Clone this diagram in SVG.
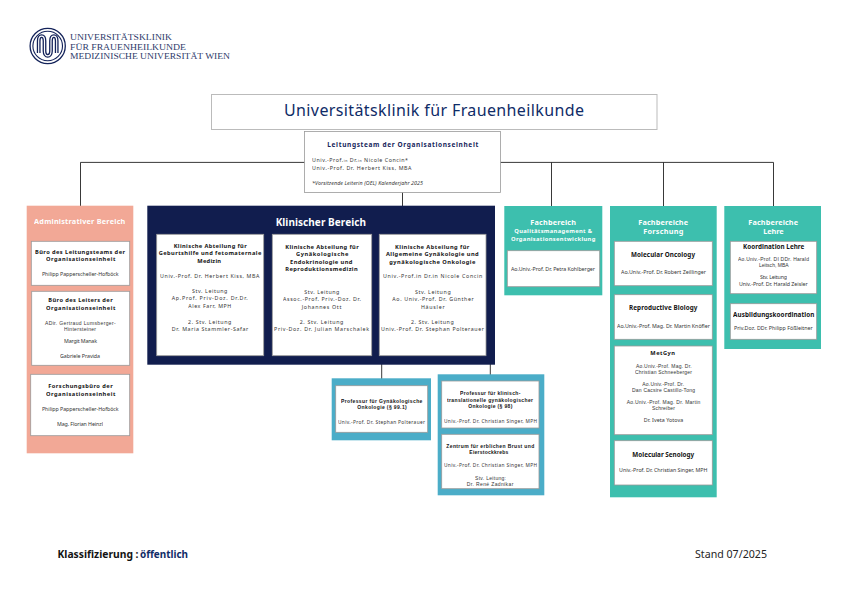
<svg xmlns="http://www.w3.org/2000/svg" width="842" height="595" viewBox="0 0 842 595">
<style>
text{font-family:"Noto Sans","Liberation Sans",sans-serif;text-anchor:middle;opacity:.99}
.b{font-weight:700;font-size:5.7px;fill:#111}
.r{font-size:5.3px;fill:#333}
.r.n{font-family:"Liberation Sans",sans-serif;font-size:5px}
.l{text-anchor:start}
.w{font-weight:700;fill:#fff;font-size:7.300px}
.s{font-size:4.800px}
.b.z{font-family:"Liberation Sans",sans-serif;font-size:5px}
.t{font-size:6.300px}
.box{fill:#fff;stroke:#999;stroke-width:.8}
.con{fill:none;stroke:#222;stroke-width:.9}
.adm{fill:#f2a896}.kli{fill:#111d4e}.tea{fill:#3dbfae}.blu{fill:#4badc8}
.lg{font-family:"Liberation Serif",serif;font-size:9px;fill:#2a3768;text-anchor:start}
</style>
<g id="logo">
<circle cx="47.700" cy="46" r="17.600" fill="none" stroke="#14235a" stroke-width="1.300"/>
<circle cx="47.700" cy="46" r="14.800" fill="none" stroke="#14235a" stroke-width="1.100"/>
<path d="M38.700 53V41C38.700 34.500 44.500 34.500 44.500 41V51C44.500 57.500 51 57.500 51 51V41C51 34.500 56.700 34.500 56.700 41V53" fill="none" stroke="#14235a" stroke-width="3.800"/>
<path d="M38.700 53V41C38.700 34.500 44.500 34.500 44.500 41V51C44.500 57.500 51 57.500 51 51V41C51 34.500 56.700 34.500 56.700 41V53" fill="none" stroke="#fff" stroke-width="1.200"/>
<text class="lg" x="70" y="40" textLength="102" lengthAdjust="spacingAndGlyphs">UNIVERSITÄTSKLINIK</text>
<text class="lg" x="70" y="49.700" textLength="116" lengthAdjust="spacingAndGlyphs">FÜR FRAUENHEILKUNDE</text>
<text class="lg" x="70" y="59.300" textLength="160" lengthAdjust="spacingAndGlyphs">MEDIZINISCHE UNIVERSITÄT WIEN</text>
</g>
<g id="connectors">
<path class="con" d="M80.500 206V162.400H773.500V206M551.500 162.400V206M663.500 162.400V206M402.500 192V206"/>
<path class="con" d="M432.500 355.700V362.500M381.700 386V362.500H490.300V381M490.300 428V434.500"/>
</g>
<g id="title">
<rect x="211.500" y="94.500" width="445.500" height="35" fill="#fff" stroke="#bbb"/>
<text x="434" y="115.700" font-size="16" fill="#0d2a66" textLength="300">Universitätsklinik für Frauenheilkunde</text>
</g>
<g id="leitung">
<rect class="box" x="304.500" y="131.500" width="196" height="61"/>
<text x="402.800" y="147" font-size="6.500" font-weight="700" fill="#14235a" textLength="151">Leitungsteam der Organisationseinheit</text>
<text class="r l" x="312" y="162.300" textLength="96">Univ.-Prof.<tspan font-size="3.500">in</tspan> Dr.<tspan font-size="3.500">in</tspan> Nicole Concin*</text>
<text class="r l" x="312" y="170" textLength="99.500">Univ.-Prof. Dr. Herbert Kiss, MBA</text>
<text class="r l" x="312" y="184.700" font-style="italic" textLength="111">*Vorsitzende Leiterin (OEL) Kalenderjahr 2025</text>
</g>
<g id="admin">
<rect class="adm" x="26.700" y="205.700" width="106.600" height="247.600"/>
<text class="w" x="79.700" y="223.700" textLength="91.300">Administrativer Bereich</text>
<rect class="box" x="31.300" y="241.300" width="98.400" height="44"/>
<text class="b" x="80" y="253.700" textLength="90">Büro des Leitungsteams der</text>
<text class="b" x="80.700" y="261" textLength="69.300">Organisationseinheit</text>
<text class="r" x="80.300" y="275.700" textLength="76.700">Philipp Papperscheller-Hofböck</text>
<rect class="box" x="31.700" y="291.300" width="98" height="74"/>
<text class="b" x="80.500" y="302" textLength="64.400">Büro des Leiters der</text>
<text class="b" x="80.700" y="310" textLength="69.300">Organisationseinheit</text>
<text class="r n" x="80.300" y="324.700" textLength="70.700">ADir. Gertraud Lumsberger-</text>
<text class="r n" x="80" y="330.700" textLength="32">Hintersteiner</text>
<text class="r" x="80.500" y="343" textLength="33">Margit Manak</text>
<text class="r" x="80" y="358" textLength="40">Gabriele Pravida</text>
<rect class="box" x="30.700" y="374.300" width="99" height="61.400"/>
<text class="b" x="80.500" y="387.700" textLength="64.400">Forschungsbüro der</text>
<text class="b" x="80.700" y="395.700" textLength="69.300">Organisationseinheit</text>
<text class="r" x="80.300" y="410.700" textLength="76.700">Philipp Papperscheller-Hofböck</text>
<text class="r" x="80" y="425.700" textLength="46">Mag. Florian Heinzl</text>
</g>
<g id="klinisch">
<rect class="kli" x="147.300" y="205.700" width="347.700" height="159"/>
<text class="w" x="320.800" y="225.700" style="font-size:10px" textLength="90.300">Klinischer Bereich</text>
</g>
<g id="abt-geburtshilfe">
<rect class="box" x="156.700" y="234.300" width="107" height="121.400"/>
<text class="b" x="210.200" y="247.700" textLength="73">Klinische Abteilung für</text>
<text class="b" x="210" y="255.300" textLength="102.600">Geburtshilfe und fetomaternale</text>
<text class="b" x="209.200" y="262.700" textLength="23.700">Medizin</text>
<text class="r" x="209.700" y="277.700" textLength="99.300">Univ.-Prof. Dr. Herbert Kiss, MBA</text>
<text class="r" x="209.700" y="292.700" textLength="35.300">Stv. Leitung</text>
<text class="r" x="209.700" y="300.300" textLength="76">Ap.Prof. Priv-Doz. Dr.Dr.</text>
<text class="r" x="209.800" y="307.700" textLength="43">Alex Farr, MPH</text>
<text class="r" x="209.700" y="323.700" textLength="43.300">2. Stv. Leitung</text>
<text class="r" x="210" y="330.700" textLength="76.600">Dr. Maria Stammler-Safar</text>
</g>
<g id="abt-endokrinologie">
<rect class="box" x="272.300" y="234.300" width="99.400" height="121.400"/>
<text class="b" x="322" y="248.700" textLength="73.400">Klinische Abteilung für</text>
<text class="b" x="322.200" y="255.700" textLength="52.300">Gynäkologische</text>
<text class="b" x="321.200" y="263.700" textLength="62.300">Endokrinologie und</text>
<text class="b" x="321.500" y="270.700" textLength="72.400">Reproduktionsmedizin</text>
<text class="r" x="321.800" y="293.700" textLength="35">Stv. Leitung</text>
<text class="r" x="322" y="301.300" textLength="78">Assoc.-Prof. Priv.-Doz. Dr.</text>
<text class="r" x="321.500" y="308.700" textLength="39.600">Johannes Ott</text>
<text class="r" x="321.500" y="323.700" textLength="43.600">2. Stv. Leitung</text>
<text class="r" x="321.500" y="331.300" textLength="95">Priv-Doz. Dr. Julian Marschalek</text>
</g>
<g id="abt-onkologie">
<rect class="box" x="379.300" y="234.300" width="106.700" height="121.400"/>
<text class="b" x="432.200" y="248.700" textLength="74.300">Klinische Abteilung für</text>
<text class="b" x="432.300" y="255.700" textLength="92.700">Allgemeine Gynäkologie und</text>
<text class="b" x="432.300" y="263.700" textLength="86">gynäkologische Onkologie</text>
<text class="r" x="432.700" y="278" textLength="99.300">Univ.-Prof.in Dr.in  Nicole Concin</text>
<text class="r" x="432.800" y="293.700" textLength="35.700">Stv. Leitung</text>
<text class="r" x="433" y="301.300" textLength="81.400">Ao. Univ.-Prof. Dr. Günther</text>
<text class="r" x="432.800" y="308.700" textLength="23.700">Häusler</text>
<text class="r" x="432.300" y="323.700" textLength="42.700">2. Stv. Leitung</text>
<text class="r" x="432.500" y="331.300" textLength="103">Univ.-Prof. Dr. Stephan Polterauer</text>
</g>
<g id="professur-onkologie">
<rect class="blu" x="331.700" y="378.300" width="99.300" height="62"/>
<rect class="box" x="335.700" y="385.700" width="92" height="46.600"/>
<text class="b z" x="381.700" y="402.700" textLength="81.300">Professur für Gynäkologische</text>
<text class="b z" x="382" y="408.700" textLength="49.400">Onkologie (§ 99.1)</text>
<text class="r s" x="381.500" y="423.700" textLength="87">Univ.-Prof. Dr. Stephan Polterauer</text>
</g>
<g id="professur-translational">
<rect class="blu" x="437.700" y="374.300" width="106.600" height="121"/>
<rect class="box" x="441.700" y="381" width="97.300" height="47"/>
<text class="b z" x="490.200" y="395" textLength="60.300">Professur für klinisch-</text>
<text class="b z" x="490" y="401.700" textLength="86">translationelle gynäkologischer</text>
<text class="b z" x="490.300" y="408" textLength="44">Onkologie (§ 98)</text>
<text class="r s" x="490.500" y="423" textLength="93">Univ.-Prof. Dr. Christian Singer, MPH</text>
</g>
<g id="zentrum">
<rect class="box" x="441.700" y="434.300" width="97.300" height="54.400"/>
<text class="b z" x="490.300" y="447.700" textLength="88">Zentrum für erblichen Brust und</text>
<text class="b z" x="488.800" y="453.700" textLength="39">Eierstockkrebs</text>
<text class="r s" x="490.500" y="466.700" textLength="93">Univ.-Prof. Dr. Christian Singer, MPH</text>
<text class="r n" x="490.500" y="479.700" textLength="31">Stv. Leitung:</text>
<text class="r n" x="490" y="485.700" textLength="46.600">Dr. René Zadnikar</text>
</g>
<g id="qualitaet">
<rect class="tea" x="504.300" y="206" width="98" height="89.300"/>
<text class="w" x="553.200" y="224.700" textLength="45.700">Fachbereich</text>
<text class="w" x="553.200" y="232.700" style="font-size:5.800px" textLength="77.700">Qualitätsmanagement &amp;</text>
<text class="w" x="553.200" y="241" style="font-size:5.800px" textLength="84.300">Organisationsentwicklung</text>
<rect class="box" x="507.300" y="250.700" width="92.400" height="36"/>
<text class="r" x="553" y="270.700" textLength="84">Ao.Univ.-Prof. Dr. Petra Kohlberger</text>
</g>
<g id="forschung">
<rect class="tea" x="610" y="206" width="106.700" height="291.300"/>
<text class="w" x="663.200" y="224.700" textLength="49.700">Fachbereiche</text>
<text class="w" x="663.300" y="234" textLength="40">Forschung</text>
</g>
<g id="molecular-oncology">
<rect class="box" x="614.300" y="241.300" width="98" height="44.400"/>
<text class="b t" x="663" y="257" textLength="64">Molecular Oncology</text>
<text class="r" x="663.500" y="273.700" textLength="85">Ao.Univ.-Prof. Dr. Robert Zeillinger</text>
</g>
<g id="reproductive-biology">
<rect class="box" x="614.300" y="294.700" width="98" height="44.600"/>
<text class="b t" x="663.200" y="310" textLength="68.300">Reproductive Biology</text>
<text class="r" x="663.500" y="327.700" textLength="93">Ao.Univ.-Prof. Mag. Dr. Martin Knöfler</text>
</g>
<g id="metgyn">
<rect class="box" x="614.300" y="346" width="98" height="88.700"/>
<text class="b" x="662.700" y="354.700" textLength="24.700">MetGyn</text>
<text class="r n" x="663.800" y="367.700" textLength="55.700">Ao.Univ.-Prof. Mag. Dr.</text>
<text class="r n" x="663.500" y="374" textLength="57">Christian Schneeberger</text>
<text class="r n" x="663.200" y="385.700" textLength="41.700">Ao.Univ.-Prof. Dr.</text>
<text class="r n" x="663.500" y="391.700" textLength="63">Dan Cacsire Castillo-Tong</text>
<text class="r n" x="663.500" y="403.700" textLength="73.600">Ao.Univ.-Prof. Mag. Dr. Martin</text>
<text class="r n" x="663.500" y="409.700" textLength="23">Schreiber</text>
<text class="r" x="663.500" y="421.700" textLength="39.600">Dr. Iveta Yotova</text>
</g>
<g id="molecular-senology">
<rect class="box" x="614.300" y="440.700" width="98" height="44.300"/>
<text class="b t" x="663.200" y="456.700" textLength="61.700">Molecular Senology</text>
<text class="r" x="663.200" y="471.700" textLength="88.300">Univ.-Prof. Dr. Christian Singer, MPH</text>
</g>
<g id="lehre">
<rect class="tea" x="724.300" y="206" width="96.700" height="143"/>
<text class="w" x="773.200" y="224.700" textLength="49.700">Fachbereiche</text>
<text class="w" x="773.500" y="234" textLength="20.400">Lehre</text>
</g>
<g id="koordination-lehre">
<rect class="box" x="730.300" y="241.300" width="86.400" height="52.400"/>
<text class="b t" x="773.700" y="248.700" textLength="61.300">Koordination Lehre</text>
<text class="r n" x="773.500" y="260.700" textLength="71">Ao.Univ.-Prof. DI DDr. Harald</text>
<text class="r n" x="773.800" y="266.700" textLength="29.700">Leitsch, MBA</text>
<text class="r" x="773.500" y="278.700" textLength="27">Stv. Leitung</text>
<text class="r" x="773.300" y="285.700" textLength="68.700">Univ.-Prof. Dr. Harald Zeisler</text>
</g>
<g id="ausbildung">
<rect class="box" x="730.300" y="303.700" width="86.400" height="35.600"/>
<text class="b t" x="773.700" y="317" textLength="81.300">Ausbildungskoordination</text>
<text class="r" x="773.300" y="329.700" textLength="78.700">Priv.Doz. DDr. Philipp Fößleitner</text>
</g>
<g id="footer">
<text class="l" x="57.500" y="558" font-size="10.500" font-weight="700" fill="#111" textLength="81" lengthAdjust="spacingAndGlyphs">Klassifizierung :</text>
<text class="l" x="140" y="558" font-size="10.500" font-weight="700" fill="#0d2a66" textLength="48" lengthAdjust="spacingAndGlyphs">öffentlich</text>
<text class="l" x="695" y="558" font-size="10.500" fill="#222" textLength="72" lengthAdjust="spacingAndGlyphs">Stand 07/2025</text>
</g>
</svg>
